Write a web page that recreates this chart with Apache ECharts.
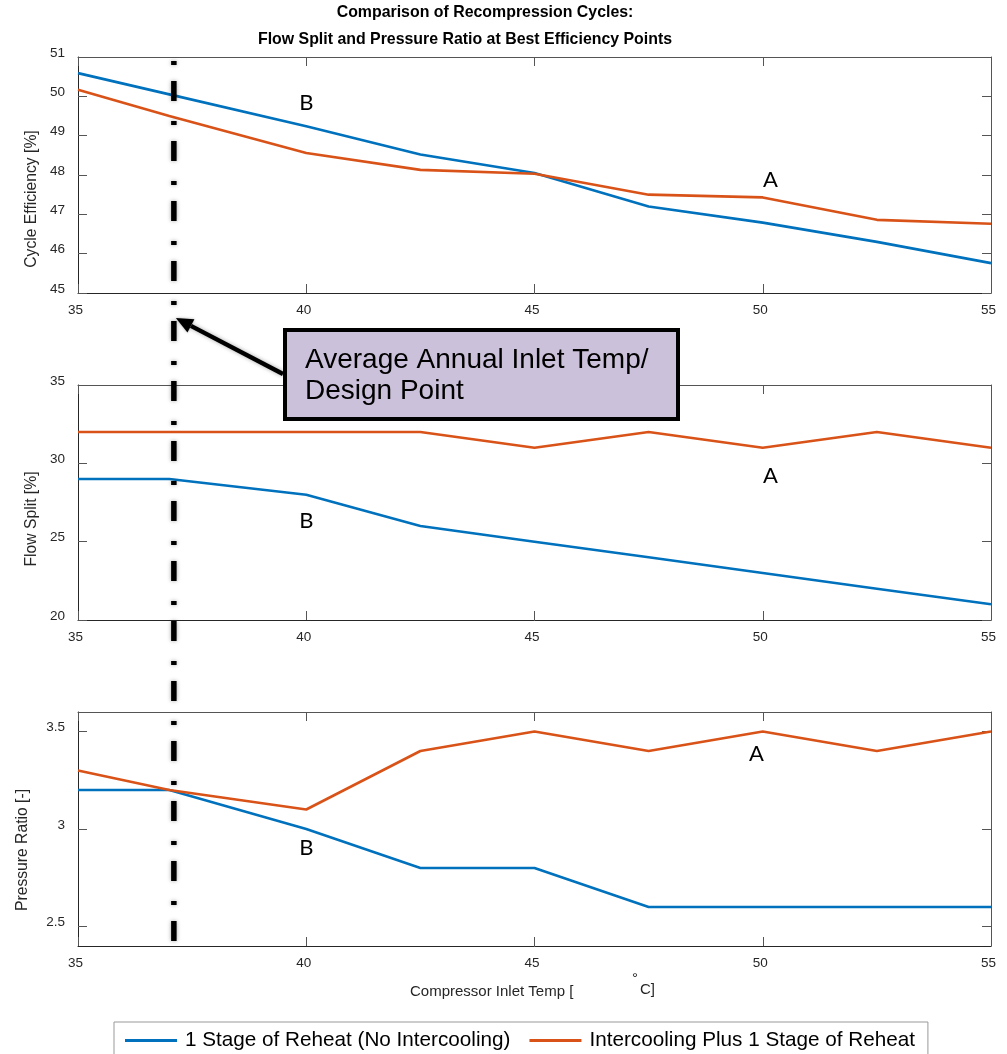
<!DOCTYPE html>
<html>
<head>
<meta charset="utf-8">
<script src="https://cdn.jsdelivr.net/npm/echarts@6/dist/echarts.min.js"></script>
<style>
  html, body { margin: 0; padding: 0; background: #fff; }
  #chart { width: 1007px; height: 1054px; }
</style>
</head>
<body>
<div id="chart"></div>
<script>
// Compressor inlet temperatures [°C] at which each cycle was optimised
const TEMPS = [35, 37, 40, 42.5, 45, 47.5, 50, 52.5, 55];

// Cycle efficiency [%]
const EFF_REHEAT    = [50.59, 50.05, 49.24, 48.52, 48.05, 47.20, 46.79, 46.30, 45.76];
const EFF_INTERCOOL = [50.17, 49.50, 48.56, 48.13, 48.03, 47.50, 47.43, 46.86, 46.76];

// Recompression flow split [%]
const SPLIT_REHEAT    = [29, 29, 28, 26, 25, 24, 23, 22, 21];
const SPLIT_INTERCOOL = [32, 32, 32, 32, 31, 32, 31, 32, 31];

// Pressure ratio [-]
const PR_REHEAT    = [3.2, 3.2, 3.0, 2.8, 2.8, 2.6, 2.6, 2.6, 2.6];
const PR_INTERCOOL = [3.3, 3.2, 3.1, 3.4, 3.5, 3.4, 3.5, 3.4, 3.5];

// Tick values
const X_TICKS     = [35, 40, 45, 50, 55];
const EFF_TICKS   = [45, 46, 47, 48, 49, 50, 51];
const SPLIT_TICKS = [20, 25, 30, 35];
const PR_TICKS    = [2.5, 3, 3.5];
const PR_RANGE    = [2.4, 3.6];

// Design point: average annual compressor inlet temperature
const DESIGN_TEMP = 37.1;

const SERIES_NAMES = ['1 Stage of Reheat (No Intercooling)', 'Intercooling Plus 1 Stage of Reheat'];
const Y_NAMES = ['Cycle Efficiency [%]', 'Flow Split [%]', 'Pressure Ratio [-]'];

// Curve letters per panel: [temperature, value, letter]
const LETTERS_EFF   = [[40, 49.84, 'B'], [50.17, 47.88, 'A']];
const LETTERS_SPLIT = [[40, 26.3, 'B'], [50.17, 29.18, 'A']];
const LETTERS_PR    = [[40, 2.904, 'B'], [49.86, 3.384, 'A']];

const BLUE = '#0072BD';
const ORANGE = '#D95319';
const FONT = "'Liberation Sans', Arial, Helvetica, sans-serif";
const AXIS_DARK = '#262626';

const chart = echarts.init(document.getElementById('chart'));

const grids = [
  { left: 78, right: 16, top: 57, height: 236 },
  { left: 78, right: 16, top: 385, height: 235 },
  { left: 78, right: 16, top: 712, height: 234 }
];

const yRanges = [
  { min: EFF_TICKS[0], max: EFF_TICKS[EFF_TICKS.length - 1], ticks: EFF_TICKS },
  { min: SPLIT_TICKS[0], max: SPLIT_TICKS[SPLIT_TICKS.length - 1], ticks: SPLIT_TICKS },
  { min: PR_RANGE[0], max: PR_RANGE[1], ticks: PR_TICKS }
];

const tickStyle = { inside: true, length: 9, lineStyle: { color: '#555', width: 1 } };
const labelBase = { fontSize: 13.5, color: AXIS_DARK, fontFamily: FONT };

const xAxes = [];
const yAxes = [];
// bottom / left axes carry labels
grids.forEach((g, i) => {
  xAxes.push({
    type: 'value', gridIndex: i, position: 'bottom',
    min: X_TICKS[0], max: X_TICKS[X_TICKS.length - 1], interval: 5,
    axisLine: { onZero: false, lineStyle: { color: AXIS_DARK, width: 1 } },
    axisTick: tickStyle,
    axisLabel: Object.assign({ margin: 10, padding: [0, 5, 0, 0] }, labelBase),
    splitLine: { show: false }
  });
  yAxes.push({
    type: 'value', gridIndex: i, position: 'left',
    min: yRanges[i].min, max: yRanges[i].max,
    axisLine: { onZero: false, lineStyle: { color: AXIS_DARK, width: 1 } },
    axisTick: Object.assign({ customValues: yRanges[i].ticks }, tickStyle),
    axisLabel: Object.assign({ margin: 13, verticalAlign: 'bottom', lineHeight: 8, customValues: yRanges[i].ticks }, labelBase),
    splitLine: { show: false }
  });
});
// top / right mirror axes close the box
grids.forEach((g, i) => {
  xAxes.push({
    type: 'value', gridIndex: i, position: 'top',
    min: X_TICKS[0], max: X_TICKS[X_TICKS.length - 1], interval: 5,
    axisLine: { onZero: false, lineStyle: { color: '#555', width: 1 } },
    axisTick: tickStyle,
    axisLabel: { show: false },
    splitLine: { show: false }
  });
  yAxes.push({
    type: 'value', gridIndex: i, position: 'right',
    min: yRanges[i].min, max: yRanges[i].max,
    axisLine: { onZero: false, lineStyle: { color: '#555', width: 1 } },
    axisTick: Object.assign({ customValues: yRanges[i].ticks }, tickStyle),
    axisLabel: { show: false },
    splitLine: { show: false }
  });
});

const pair = (vals) => TEMPS.map((t, k) => [t, vals[k]]);
const panelData = [
  [EFF_REHEAT, EFF_INTERCOOL],
  [SPLIT_REHEAT, SPLIT_INTERCOOL],
  [PR_REHEAT, PR_INTERCOOL]
];
const series = [];
panelData.forEach((pd, i) => {
  [BLUE, ORANGE].forEach((c, j) => {
    series.push({
      type: 'line', name: SERIES_NAMES[j],
      xAxisIndex: i, yAxisIndex: i,
      data: pair(pd[j]),
      showSymbol: false, symbol: 'none',
      lineStyle: { color: c, width: 2.6 },
      itemStyle: { color: c },
      emphasis: { disabled: true },
      animation: false
    });
  });
});

chart.setOption({
  animation: false,
  backgroundColor: '#fff',
  grid: grids,
  xAxis: xAxes,
  yAxis: yAxes,
  series,
  legend: {
    data: SERIES_NAMES,
    left: 114, top: 1022,
    icon: 'rect', itemWidth: 52, itemHeight: 3, itemGap: 19,
    padding: [8, 13, 20, 11],
    borderColor: '#999', borderWidth: 1, backgroundColor: '#fff',
    textStyle: { fontSize: 20.7, fontFamily: FONT, color: '#000', padding: [0, 0, 0, 3] },
    selectedMode: false
  }
});

// ---- Texts and annotations (positioned through the axes' own scales) ----
const titleText = (text, cx, cy) => ({
  type: 'text', x: cx, y: cy,
  style: { text, font: 'bold 15.9px ' + FONT, fill: '#000', align: 'center', verticalAlign: 'middle' }
});
const yName = (text, cx, cy) => ({
  type: 'text', x: cx, y: cy, rotation: Math.PI / 2,
  style: { text, font: '15.7px ' + FONT, fill: AXIS_DARK, align: 'center', verticalAlign: 'middle' }
});

const elements = [
  titleText('Comparison of Recompression Cycles:', 485, 13),
  titleText('Flow Split and Pressure Ratio at Best Efficiency Points', 465, 40),
  yName(Y_NAMES[0], 32, 199),
  yName(Y_NAMES[1], 32, 519),
  yName(Y_NAMES[2], 23, 850),
  { type: 'text', x: 410, y: 992, style: { text: 'Compressor Inlet Temp [', font: '15px ' + FONT, fill: AXIS_DARK, align: 'left', verticalAlign: 'middle' } },
  { type: 'text', x: 635, y: 979, style: { text: '°', font: '15px ' + FONT, fill: AXIS_DARK, align: 'center', verticalAlign: 'middle' } },
  { type: 'text', x: 640, y: 990, style: { text: 'C]', font: '15px ' + FONT, fill: AXIS_DARK, align: 'left', verticalAlign: 'middle' } }
];

const letterSets = [LETTERS_EFF, LETTERS_SPLIT, LETTERS_PR];
letterSets.forEach((set, i) => {
  set.forEach(([t, v, ch]) => {
    const p = chart.convertToPixel({ gridIndex: i }, [t, v]);
    elements.push({
      type: 'text', x: p[0], y: p[1], z: 50,
      style: { text: ch, font: "22px Lato, 'Open Sans', sans-serif", fill: '#000', align: 'center', verticalAlign: 'middle' }
    });
  });
});

// Design-point dash-dot marker spanning all three panels
const designTop = chart.convertToPixel({ gridIndex: 0 }, [DESIGN_TEMP, EFF_TICKS[EFF_TICKS.length - 1]]);
const designBot = chart.convertToPixel({ gridIndex: 2 }, [DESIGN_TEMP, PR_RANGE[0]]);
elements.push({
  type: 'line', z: 60,
  shape: { x1: designTop[0], y1: designTop[1] + 4, x2: designBot[0], y2: designBot[1] - 2 },
  style: { stroke: '#000', lineWidth: 5.5, lineDash: [4, 16, 20, 20], lineCap: 'butt',
           shadowBlur: 4, shadowColor: 'rgba(0,0,0,0.35)' }
});

// Callout box with arrow to the design point
const box = { x: 285, y: 330, w: 393, h: 89 };
const tip = [designTop[0] + 2, 318];
const tail = [box.x - 2, 374];
const dx = tip[0] - tail[0], dy = tip[1] - tail[1];
const len = Math.hypot(dx, dy);
const ux = dx / len, uy = dy / len;
const headLen = 17, headHalf = 7.5;
const base = [tip[0] - ux * headLen, tip[1] - uy * headLen];
elements.push({
  type: 'line', z: 61,
  shape: { x1: tail[0], y1: tail[1], x2: base[0], y2: base[1] },
  style: { stroke: '#000', lineWidth: 4.5, shadowBlur: 4, shadowColor: 'rgba(0,0,0,0.35)' }
});
elements.push({
  type: 'polygon', z: 61,
  shape: { points: [tip,
    [base[0] - uy * headHalf, base[1] + ux * headHalf],
    [base[0] + uy * headHalf, base[1] - ux * headHalf]] },
  style: { fill: '#000', shadowBlur: 3, shadowColor: 'rgba(0,0,0,0.35)' }
});
elements.push({
  type: 'rect', z: 62,
  shape: { x: box.x, y: box.y, width: box.w, height: box.h },
  style: { fill: '#CCC1DA', stroke: '#000', lineWidth: 4 }
});
elements.push({
  type: 'text', z: 63, x: 305, y: 360,
  style: { text: 'Average Annual Inlet Temp/', font: '28px ' + FONT, fill: '#000', align: 'left', verticalAlign: 'middle' }
});
elements.push({
  type: 'text', z: 63, x: 305, y: 391,
  style: { text: 'Design Point', font: '28px ' + FONT, fill: '#000', align: 'left', verticalAlign: 'middle' }
});

chart.setOption({ graphic: { elements } });
</script>
</body>
</html>
